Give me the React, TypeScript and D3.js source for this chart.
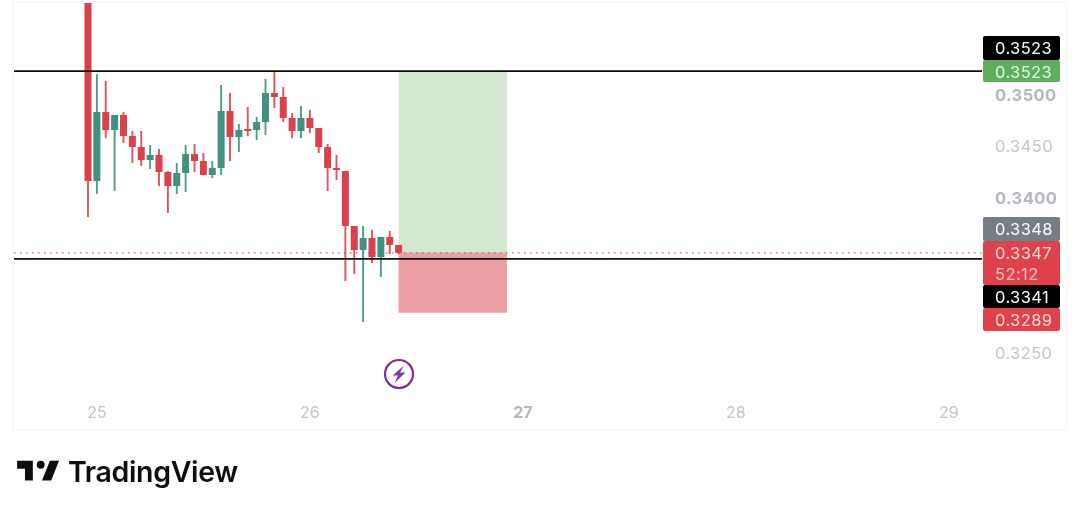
import React from "react";
import * as d3 from "d3";

// hourly candles, hour index from 24 Jan 23:00
const opens = [0.3600,0.34167,0.34835,0.34661,0.34806,0.34603,0.34496,0.34370,0.34419,0.34254,0.34118,0.34244,0.34428,0.34360,0.34225,0.34293,0.34845,0.34593,0.34671,0.34661,0.34738,0.35019,0.34981,0.34777,0.34651,0.34777,0.34680,0.34496,0.34293,0.34264,0.33731,0.33498,0.33614,0.33430,0.33624,0.33547];
const closes = [0.34167,0.34835,0.34661,0.34806,0.34603,0.34496,0.34370,0.34419,0.34254,0.34118,0.34244,0.34428,0.34360,0.34225,0.34293,0.34845,0.34593,0.34661,0.34651,0.34738,0.35019,0.34981,0.34777,0.34651,0.34777,0.34680,0.34496,0.34293,0.34273,0.33731,0.33498,0.33614,0.33430,0.33624,0.33547,0.33469];
const highs = [0.3600,0.35203,0.35136,0.34806,0.34835,0.34651,0.34651,0.34516,0.34477,0.34264,0.34341,0.34516,0.34525,0.34438,0.34360,0.35097,0.35019,0.34719,0.34884,0.34787,0.35155,0.35233,0.35078,0.34826,0.34893,0.34855,0.34680,0.34525,0.34419,0.34264,0.33731,0.33731,0.33692,0.33624,0.33682,0.33547];
const lows = [0.33818,0.34041,0.34583,0.34070,0.34535,0.34341,0.34312,0.34283,0.34118,0.33857,0.34041,0.34060,0.34254,0.34225,0.34196,0.34225,0.34360,0.34448,0.34603,0.34564,0.34612,0.34874,0.34738,0.34583,0.34583,0.34632,0.34438,0.34070,0.34176,0.33198,0.33265,0.32800,0.33372,0.33236,0.33459,0.33459];

const priceTicks = [
  { v: 0.35, label: "0.3500", major: true },
  { v: 0.345, label: "0.3450", major: false },
  { v: 0.34, label: "0.3400", major: true },
  { v: 0.325, label: "0.3250", major: false },
];
const dayTicks = [
  { hour: 1, label: "25", major: false },
  { hour: 25, label: "26", major: false },
  { hour: 49, label: "27", major: true },
  { hour: 73, label: "28", major: false },
  { hour: 97, label: "29", major: false },
];
const priceTags = [
  { v: 0.3523, top: 36, h: 24, fill: "#000000", text: ["0.3523"], color: "#ffffff" },
  { v: 0.3523, top: 60, h: 22, fill: "#5fae5f", text: ["0.3523"], color: "#e4f5e4" },
  { v: 0.3348, top: 217, h: 24, fill: "#787b86", text: ["0.3348"], color: "#ffffff" },
  { v: 0.3347, top: 241, h: 44, fill: "#e0434b", text: ["0.3347", "52:12"], color: "#ffd9da" },
  { v: 0.3341, top: 285, h: 23, fill: "#000000", text: ["0.3341"], color: "#ffffff" },
  { v: 0.3289, top: 308, h: 23, fill: "#e0434b", text: ["0.3289"], color: "#ffd9da" },
];
const hLines = [0.3523, 0.3341];
const lastPrice = 0.3347;
const position = { startHour: 35, endHour: 47.2, entry: 0.33475, target: 0.3523, stop: 0.3289 };

const UP = "#3f917f";
const DOWN = "#d9434b";
const FONT = "Inter, 'Noto Sans', sans-serif";

export default function App() {
  const x = d3.scaleLinear().domain([0, 24]).range([88, 301]);
  const y = d3.scaleLinear().domain([0.325, 0.35]).range([353, 95]);
  const bw = 7;
  const plotL = 14, plotR = 982;
  const labelX = 995;
  return (
    <svg width={1080} height={511} style={{ position: "absolute", left: 0, top: 0, background: "#fff" }}>
      <defs>
        <clipPath id="plot"><rect x={13} y={3} width={1053} height={427} /></clipPath>
        <filter id="soft" x="-2%" y="-2%" width="104%" height="104%"><feGaussianBlur stdDeviation={0.4} /></filter>
      </defs>
      <rect x={13} y={2} width={1053} height={428} fill="none" stroke="#f3f4f6" />
      <g filter="url(#soft)">
        <rect x={x(position.startHour)} y={y(position.target)} width={x(position.endHour) - x(position.startHour)} height={y(position.entry) - y(position.target)} fill="#d3e7d1" />
        <rect x={x(position.startHour)} y={y(position.entry)} width={x(position.endHour) - x(position.startHour)} height={y(position.stop) - y(position.entry)} fill="#ec9fa4" />
        <g clipPath="url(#plot)">
          {opens.map((o, i) => {
            const c = closes[i];
            const col = c >= o ? UP : DOWN;
            const top = y(Math.max(o, c));
            const bot = y(Math.min(o, c));
            return (
              <g key={i}>
                <line x1={x(i)} x2={x(i)} y1={y(highs[i])} y2={y(lows[i])} stroke={col} strokeWidth={1.9} opacity={0.9} />
                <rect x={x(i) - bw / 2} y={top} width={bw} height={Math.max(bot - top, 2)} fill={col} />
              </g>
            );
          })}
        </g>
        <line x1={plotL} x2={plotR} y1={y(lastPrice)} y2={y(lastPrice)} stroke="#b5434a" strokeWidth={1} strokeDasharray="1.5 4.5" />
        {hLines.map((v) => (
          <line key={v} x1={plotL} x2={plotR} y1={y(v) - 0.2} y2={y(v) - 0.2} stroke="#0c0c0e" strokeWidth={1.7} />
        ))}
        <g>
          <circle cx={399} cy={374} r={14} fill="#fff" stroke="#7b2d9b" strokeWidth={2.2} />
          <path d="M404 365.5 L392.5 375.5 L398 375.5 L394.5 383 L405.5 372.5 L400 372.5 Z" fill="#7b3aa8" />
        </g>
        {priceTicks.map((t) => (
          <text key={t.label} x={labelX} y={y(t.v) + 5.6} fontFamily={FONT} fontSize={16.5} fontWeight={t.major ? 700 : 400} fill={t.major ? "#b4b7bf" : "#c3c5cb"} letterSpacing={0.4}>{t.label}</text>
        ))}
        {dayTicks.map((t) => (
          <text key={t.label} x={x(t.hour)} y={418} textAnchor="middle" fontFamily={FONT} fontSize={16} fontWeight={t.major ? 700 : 400} fill={t.major ? "#b4b7bf" : "#c3c5cb"}>{t.label}</text>
        ))}
        {priceTags.map((t, i) => (
          <g key={i}>
            <rect x={983} y={t.top} width={77} height={t.h} rx={2} fill={t.fill} />
            {t.text.map((s, j) => (
              <text key={s} x={labelX} y={t.top + 17.5 + j * 21} fontFamily={FONT} fontSize={16.5} fill={t.color} letterSpacing={0.4} opacity={j ? 0.85 : 1}>{s}</text>
            ))}
          </g>
        ))}
        <g transform="translate(14.5,453) scale(1.31)" fill="#0e0e10">
          <path d="M14 6H2v6h6v9h6V6zm14 15h-7l6-15h7l-6 15zm-8-9a3 3 0 1 0 0-6 3 3 0 0 0 0 6z" />
        </g>
        <text x={68} y={482} fontFamily={FONT} fontSize={28.5} fontWeight={600} fill="#0e0e10" letterSpacing={-0.35}>TradingView</text>
      </g>
    </svg>
  );
}
